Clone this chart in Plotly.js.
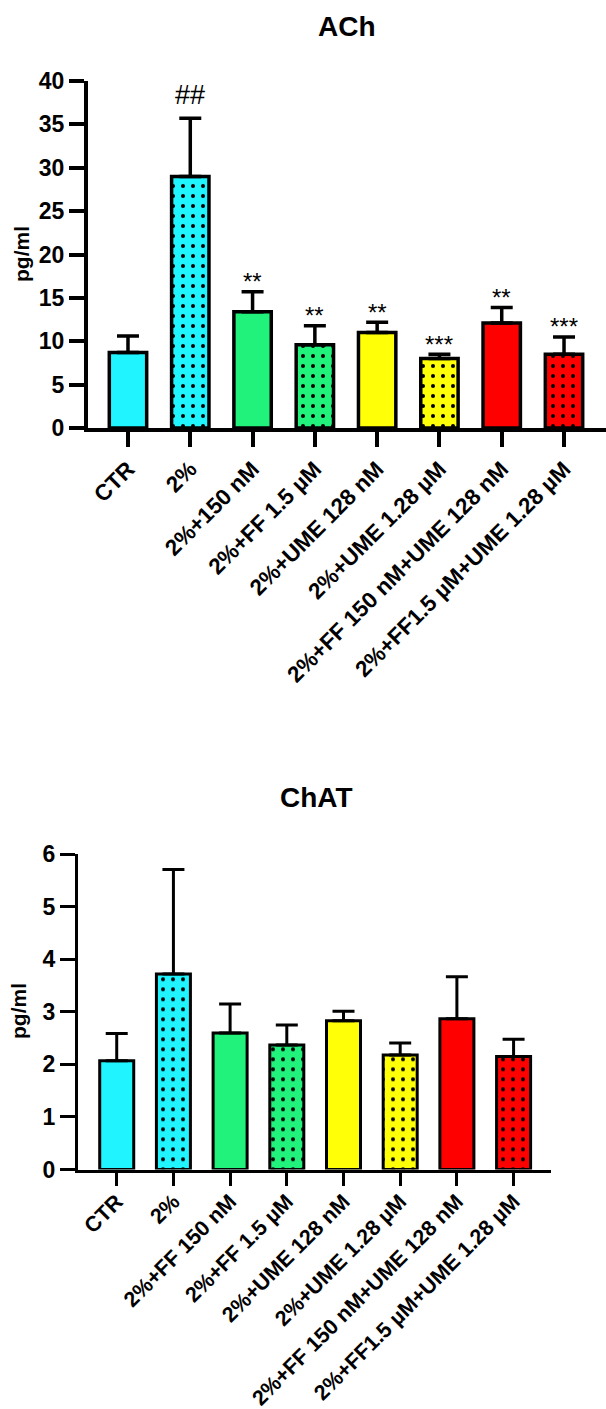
<!DOCTYPE html>
<html>
<head>
<meta charset="utf-8">
<script src="https://cdn.plot.ly/plotly-3.0.1.min.js"></script>
<style>
html,body{margin:0;padding:0;background:#ffffff;}
#chart{width:606px;height:1409px;}
</style>
</head>
<body>
<div id="chart"></div>
<script>
// ---------- data ----------
const achCategories = ['CTR', '2%', '2%+150 nM', '2%+FF 1.5 µM', '2%+UME 128 nM', '2%+UME 1.28 µM', '2%+FF 150 nM+UME 128 nM', '2%+FF1.5 µM+UME 1.28 µM'];
const achMeans  = [8.7, 29.0, 13.4, 9.6, 11.0, 8.0, 12.1, 8.5];
const achErrors = [1.9, 6.7, 2.3, 2.2, 1.2, 0.5, 1.8, 2.0];
const achSignificance = ['', '##', '**', '**', '**', '***', '**', '***'];

const chatCategories = ['CTR', '2%', '2%+FF 150 nM', '2%+FF 1.5 µM', '2%+UME 128 nM', '2%+UME 1.28 µM', '2%+FF 150 nM+UME 128 nM', '2%+FF1.5 µM+UME 1.28 µM'];
const chatMeans  = [2.07, 3.72, 2.60, 2.37, 2.83, 2.18, 2.87, 2.15];
const chatErrors = [0.52, 1.99, 0.55, 0.38, 0.18, 0.23, 0.80, 0.33];

const achTicks  = [0, 5, 10, 15, 20, 25, 30, 35, 40];
const chatTicks = [0, 1, 2, 3, 4, 5, 6];

// ---------- styles ----------
const barColors   = ['#20f4ff', '#20f4ff', '#20f27c', '#20f27c', '#ffff08', '#ffff08', '#ff0000', '#ff0000'];
const barPatterns = ['', '.', '', '.', '', '.', '', '.'];
const FONT = 'Liberation Sans, Arial, Helvetica, sans-serif';
const W = 606, H = 1409;
const fx = px => px / W;
const fy = py => 1 - py / H;

// one trace per bar so each keeps its own solid colour + black dot pattern
function barTraces(cats, means, errs, xa, ya, lw) {
  return cats.map((c, i) => ({
    type: 'bar',
    x: [c],
    y: [means[i]],
    xaxis: xa,
    yaxis: ya,
    width: 0.6,
    marker: {
      color: barColors[i],
      line: {color: '#000000', width: lw},
      pattern: {shape: barPatterns[i], fgcolor: '#000000', bgcolor: barColors[i], size: 10, solidity: 0.13}
    },
    error_y: {type: 'data', symmetric: false, array: [errs[i]], arrayminus: [0],
              color: '#000000', thickness: lw, width: 11},
    hoverinfo: 'skip'
  }));
}

const traces = [].concat(
  barTraces(achCategories, achMeans, achErrors, 'x', 'y', 3.5),
  barTraces(chatCategories, chatMeans, chatErrors, 'x2', 'y2', 3)
);

function xAxis(domain, range, anchor, lw, cats, fs, tl, standoff) {
  return {
    domain: domain, range: range, anchor: anchor, type: 'category',
    categoryorder: 'array', categoryarray: cats,
    showline: true, linecolor: '#000000', linewidth: lw,
    ticks: 'outside', ticklen: tl, tickwidth: lw, tickcolor: '#000000',
    ticklabelstandoff: standoff,
    tickangle: -45, showgrid: false, zeroline: false, fixedrange: true,
    tickfont: {family: FONT, size: fs, color: '#000000', weight: 'bold'}
  };
}
function yAxis(domain, range, anchor, lw, vals) {
  return {
    domain: domain, range: range, anchor: anchor,
    tickvals: vals, ticktext: vals.map(String),
    showline: true, linecolor: '#000000', linewidth: lw,
    ticks: 'outside', ticklen: 15, tickwidth: lw, tickcolor: '#000000',
    showgrid: false, zeroline: false, fixedrange: true,
    tickfont: {family: FONT, size: 23, color: '#000000', weight: 'bold'}
  };
}

const annotations = [
  {text: 'ACh', xref: 'paper', yref: 'paper', x: fx(347), y: fy(26), xanchor: 'center', yanchor: 'middle', showarrow: false,
   font: {family: FONT, size: 28, color: '#000000', weight: 'bold'}},
  {text: 'ChAT', xref: 'paper', yref: 'paper', x: fx(316), y: fy(797), xanchor: 'center', yanchor: 'middle', showarrow: false,
   font: {family: FONT, size: 28, color: '#000000', weight: 'bold'}},
  {text: 'pg/ml', xref: 'paper', yref: 'paper', x: fx(22), y: fy(254), xanchor: 'center', yanchor: 'middle', textangle: -90, showarrow: false,
   font: {family: FONT, size: 21, color: '#000000', weight: 'bold'}},
  {text: 'pg/ml', xref: 'paper', yref: 'paper', x: fx(19), y: fy(1011), xanchor: 'center', yanchor: 'middle', textangle: -90, showarrow: false,
   font: {family: FONT, size: 21, color: '#000000', weight: 'bold'}}
];
achSignificance.forEach((s, i) => {
  if (!s) return;
  const isHash = s.indexOf('#') >= 0;
  annotations.push({
    text: s, xref: 'x', yref: 'y', x: achCategories[i], y: achMeans[i] + achErrors[i],
    xanchor: 'center', yanchor: 'middle', yshift: isHash ? 23 : 10, showarrow: false,
    font: {family: FONT, size: isHash ? 27 : 24, color: '#000000'}
  });
});

const layout = {
  width: W, height: H,
  margin: {l: 0, r: 0, t: 0, b: 0},
  paper_bgcolor: '#ffffff', plot_bgcolor: 'rgba(0,0,0,0)',
  showlegend: false, barmode: 'overlay',
  font: {family: FONT, color: '#000000'},
  xaxis:  xAxis([fx(88), 1], [-0.642, 7.674], 'y', 4, achCategories, 22.5, 15, 0),
  yaxis:  yAxis([fy(428), fy(81)], [0, 40], 'x', 4, achTicks),
  xaxis2: xAxis([fx(78), fx(551)], [-0.683, 7.66], 'y2', 3, chatCategories, 21.5, 13, -5),
  yaxis2: yAxis([fy(1169.5), fy(854.3)], [0, 6], 'x2', 3, chatTicks),
  annotations: annotations
};

Plotly.newPlot('chart', traces, layout, {displayModeBar: false, staticPlot: true});
</script>
</body>
</html>
